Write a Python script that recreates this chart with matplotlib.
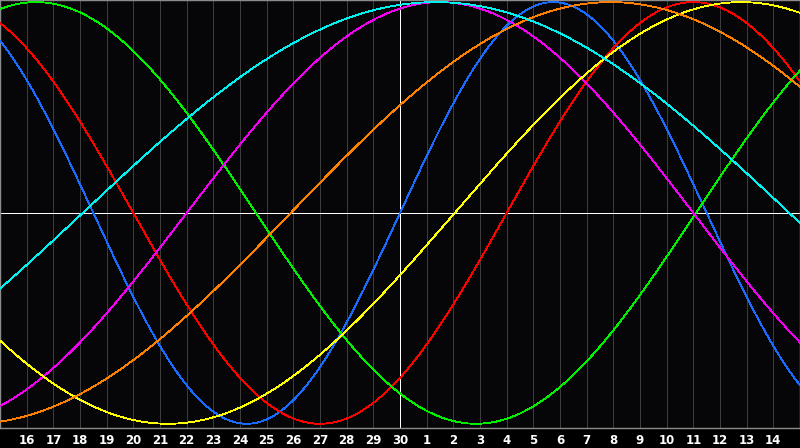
import numpy as np
import matplotlib
matplotlib.use("Agg")
import matplotlib.pyplot as plt

# dias mostrados en el eje (posicion 0 = dia 15, sin etiqueta)
dias = [16, 17, 18, 19, 20, 21, 22, 23, 24, 25, 26, 27, 28, 29, 30,
        1, 2, 3, 4, 5, 6, 7, 8, 9, 10, 11, 12, 13, 14]

# ciclos: periodo en dias y posicion del maximo (en dias desde el borde izquierdo)
periodos = [23, 28, 33, 38, 43, 48, 53]
maximos = [20.75, 26.0, 1.35, 16.5, 27.8, 22.9, 16.35]
colores = ["#1a6cff", "#ff0000", "#00f000", "#f000f0", "#ffff00", "#ff8000", "#00f0f0"]

hoy = 15  # posicion de la linea vertical (dia 30)

fig = plt.figure(figsize=(8, 4.48), dpi=100, facecolor="black")
ax = fig.add_axes([0, 20 / 448, 1, 428 / 448])
ax.set_facecolor("#060608")

x = np.linspace(0, 30, 1201)

for k in range(1, 30):
    ax.axvline(k, color="#3c3c3c", lw=0.6, zorder=1, antialiased=False)
ax.axvline(hoy, color="white", lw=0.65, zorder=2, antialiased=False)
ax.axhline(0, color="white", lw=0.65, zorder=2, antialiased=False)

orden = [5, 2, 4, 1, 0, 3, 6]
for i in orden:
    y = np.cos(2 * np.pi * (x - maximos[i]) / periodos[i])
    ax.plot(x, y, color=colores[i], lw=0.6, zorder=3 + i, antialiased=False)

ax.set_xlim(0, 30)
ax.set_ylim(-1.02, 1.01)
ax.set_yticks([])
ax.set_xticks(range(1, 30))
ax.set_xticklabels([str(d) for d in dias], color="white", fontsize=8.5, fontweight="bold")
ax.tick_params(axis="x", length=0, pad=4)
for s in ax.spines.values():
    s.set_color("#8c8c8c")
    s.set_linewidth(1)

fig.savefig("out.png", dpi=100, facecolor="black")
